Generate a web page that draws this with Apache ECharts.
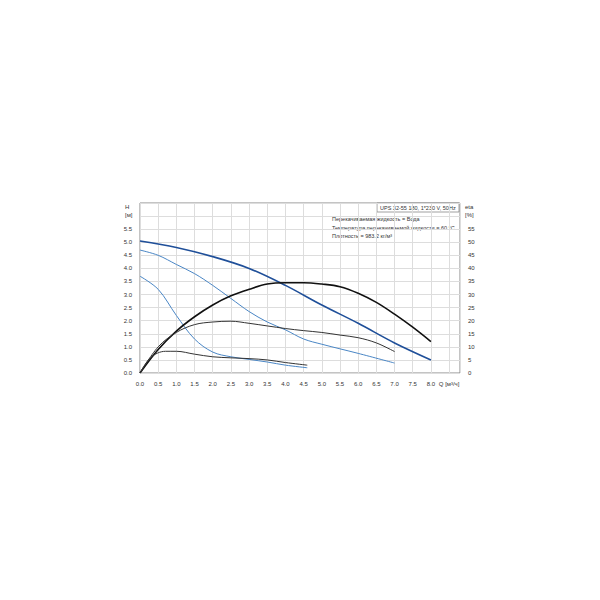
<!DOCTYPE html>
<html><head><meta charset="utf-8">
<script src="https://cdn.jsdelivr.net/npm/echarts@6/dist/echarts.min.js"></script>
<style>html,body{margin:0;background:#fff}#c{width:600px;height:600px}</style>
</head><body><div id="c"></div>
<script>
// head curves H [m] vs Q [m3/h]
const headHigh = [[0,5.05],[1,4.8],[2,4.45],[3,4.0],[4,3.35],[5,2.6],[6,1.9],[7,1.15],[8,0.5]];
const headMid = [[0,4.7],[0.5,4.5],[1,4.15],[1.5,3.8],[2,3.35],[2.5,2.85],[3,2.35],[3.5,1.95],[4,1.65],[4.5,1.3],[5,1.1],[6,0.75],[7,0.38]];
const headLow = [[0,3.7],[0.5,3.2],[1,2.2],[1.5,1.3],[2,0.8],[2.5,0.62],[3,0.52],[3.5,0.42],[4,0.3],[4.6,0.2]];
// efficiency curves eta [%]
const etaHigh = [[0,0],[0.5,9],[1,16],[1.5,21.5],[2,26],[2.5,29.5],[3,32],[3.5,34],[4,34.5],[4.5,34.5],[5,34],[5.5,33],[6,30.5],[6.5,27],[7,22.5],[7.5,17.5],[8,12]];
const etaMid = [[0,0],[0.5,10],[1,15.5],[1.5,18.5],[2,19.5],[2.5,19.8],[3,19],[3.5,18],[4,17],[4.5,16.2],[5,15.5],[5.5,14.5],[6,13.5],[6.5,11.5],[7,8.2]];
const etaLow = [[0,0],[0.3,6],[0.7,8.3],[1,8.3],[1.5,7.2],[2,6.2],[2.5,5.8],[3,5.5],[3.5,5],[4,4],[4.6,3]];
const infoLines = ["Перекачиваемая жидкость = Вода","Температура перекачиваемой жидкости = 60 °C","Плотность = 983.2 кг/м³"];

const FONT = "Arial, 'Liberation Sans', sans-serif";
const lab = { color: "#333", fontSize: 6, fontFamily: FONT };
const gridLine = { show: true, lineStyle: { color: "#ddd", width: 1 } };
const line = (data, color, w, yi) => ({ type: "line", data, smooth: 0.35, showSymbol: false,
  yAxisIndex: yi, lineStyle: { color, width: w } });

const chart = echarts.init(document.getElementById("c"), null, { renderer: "svg" });
chart.setOption({
  animation: false,
  grid: { left: 140, right: 140, top: 203, bottom: 227, show: true, borderColor: "#888", borderWidth: 1 },
  xAxis: { type: "value", min: 0, max: 8.8, interval: 0.5, splitLine: gridLine,
    axisLine: { show: false }, axisTick: { show: false },
    axisLabel: { ...lab, showMaxLabel: false, formatter: v => v > 8.4 ? "Q [м³/ч]" : v.toFixed(1) } },
  yAxis: [
    { type: "value", min: 0, max: 6.5, interval: 0.5, splitLine: gridLine,
      axisLine: { show: false }, axisTick: { show: false },
      axisLabel: { ...lab, formatter: v => v > 5.6 ? "" : v.toFixed(1) } },
    { type: "value", min: 0, max: 65, interval: 5, splitLine: { show: false },
      axisLine: { show: false }, axisTick: { show: false },
      axisLabel: { ...lab, formatter: v => v > 56 ? "" : String(v) } }
  ],
  graphic: [
    { type: "text", left: 125, top: 203, style: { text: "H\n[м]", fill: "#333", font: "6px Arial", lineHeight: 8 } },
    { type: "text", left: 465, top: 203, style: { text: "eta\n[%]", fill: "#333", font: "6px Arial", lineHeight: 8 } },
    { type: "rect", shape: { x: 377, y: 203, width: 82, height: 9 }, style: { fill: "#fff", stroke: "#888", lineWidth: 0.8 } },
    { type: "text", left: 380, top: 205, style: { text: "UPS 32-55 180, 1*230 V, 50Hz", fill: "#333", font: "5.5px Arial" } },
    { type: "text", left: 332, top: 215, style: { text: infoLines.join("\n"), fill: "#333", font: "5.5px Arial", lineHeight: 8.5 } }
  ],
  series: [
    line(headHigh, "#1f4f99", 1.6, 0),
    line(headMid, "#4a86c5", 1, 0),
    line(headLow, "#4a86c5", 1, 0),
    line(etaHigh, "#111", 1.6, 1),
    line(etaMid, "#333", 1, 1),
    line(etaLow, "#333", 1, 1)
  ]
});
</script></body></html>
